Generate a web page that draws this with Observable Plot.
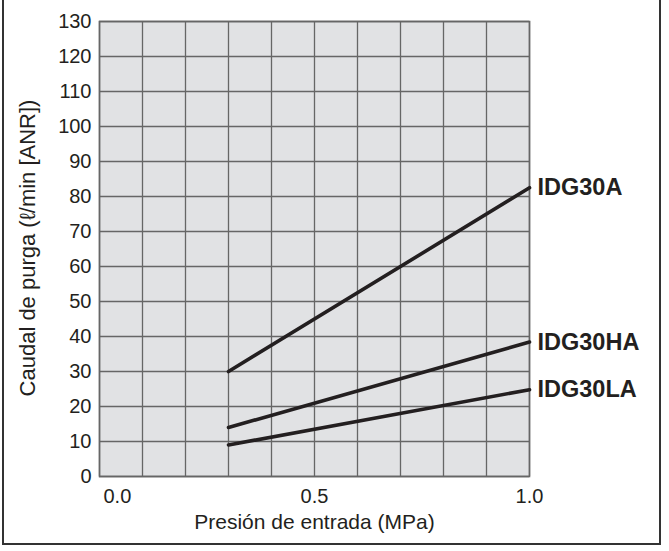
<!DOCTYPE html>
<html>
<head>
<meta charset="utf-8">
<script src="https://cdn.jsdelivr.net/npm/d3@7"></script>
<script src="https://cdn.jsdelivr.net/npm/@observablehq/plot@0.6"></script>
<style>
  html, body { margin: 0; padding: 0; background: #fff; }
  #wrap { position: relative; width: 669px; height: 551px; overflow: hidden; }
  #border { position: absolute; left: 2px; top: -4px; width: 659px; height: 549px; border: 2px solid #333; box-sizing: border-box; pointer-events: none; }
</style>
</head>
<body>
<div id="wrap"><div id="border"></div></div>
<script>
const series = ["IDG30A", "IDG30HA", "IDG30LA"];
const pressure = [0.3, 1.0];
const flowIDG30A = [30, 82.5];
const flowIDG30HA = [14, 38.4];
const flowIDG30LA = [9, 24.8];
const yTicks = d3.range(0, 131, 10);
const xTicks = [0, 0.5, 1.0];
const xLabel = "Presión de entrada (MPa)";
const yLabel = "Caudal de purga (ℓ/min [ANR])";

const flows = [flowIDG30A, flowIDG30HA, flowIDG30LA];
const data = series.flatMap((s, i) => pressure.map((p, j) => ({series: s, x: p, y: flows[i][j]})));
const ends = data.filter(d => d.x === 1.0);

const chart = Plot.plot({
  width: 669,
  height: 551,
  marginLeft: 99,
  marginRight: 140,
  marginTop: 21,
  marginBottom: 75,
  style: {fontFamily: "'Liberation Sans', Arial, sans-serif", background: "transparent", color: "#231f20"},
  x: {domain: [0, 1.0]},
  y: {domain: [0, 130]},
  marks: [
    Plot.frame({fill: "#e1e2e4"}),
    Plot.gridX(d3.range(0, 1.01, 0.1), {stroke: "#666", strokeOpacity: 1, strokeWidth: 1.3}),
    Plot.gridY(yTicks, {stroke: "#666", strokeOpacity: 1, strokeWidth: 1.3}),
    Plot.frame({stroke: "#666", strokeWidth: 1.6}),
    Plot.axisY(yTicks, {tickSize: 0, tickPadding: 8, fontSize: 20, label: null, tickFormat: d => String(d)}),
    Plot.axisX([xTicks[0]], {tickSize: 0, tickPadding: 12, fontSize: 20, label: null, textAnchor: "start", dx: 4, tickFormat: d => d.toFixed(1)}),
    Plot.axisX(xTicks.slice(1), {tickSize: 0, tickPadding: 12, fontSize: 20, label: null, tickFormat: d => d.toFixed(1)}),
    Plot.line(data, {x: "x", y: "y", z: "series", stroke: "#231f20", strokeWidth: 3.6}),
    Plot.text(ends, {x: "x", y: "y", text: "series", textAnchor: "start", dx: 8, fontSize: 23.5, fontWeight: "bold", fill: "#231f20"}),
    Plot.text([xLabel], {frameAnchor: "bottom", dy: 52, fontSize: 21, fill: "#231f20"}),
    Plot.text([yLabel], {frameAnchor: "left", textAnchor: "middle", rotate: -90, dx: -72, dy: -1, fontSize: 22, fill: "#231f20"})
  ]
});
document.getElementById("wrap").prepend(chart);
</script>
</body>
</html>
